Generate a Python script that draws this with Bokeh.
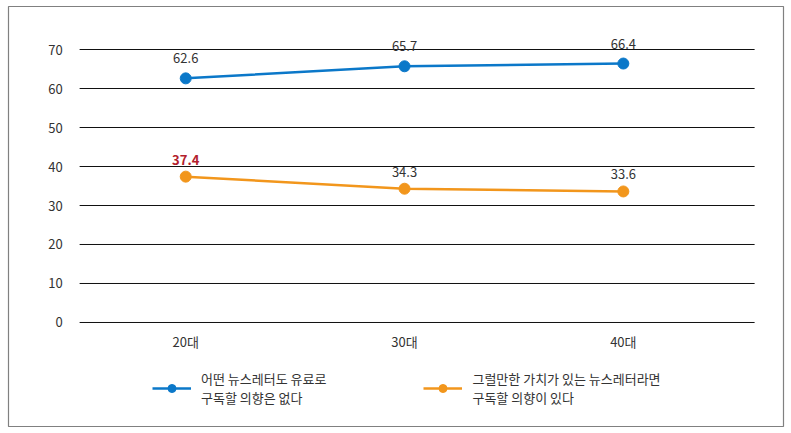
from bokeh.plotting import figure
from bokeh.models import Range1d, FixedTicker, Legend, LegendItem, ColumnDataSource
from bokeh.embed import file_html
from bokeh.resources import INLINE
from bokeh.core.properties import value

# ---- data ----
categories = ["20대", "30대", "40대"]
no_pay = [62.6, 65.7, 66.4]
will_pay = [37.4, 34.3, 33.6]
no_pay_label = "어떤 뉴스레터도 유료로\n구독할 의향은 없다"
will_pay_label = "그럴만한 가치가 있는 뉴스레터라면\n구독할 의향이 있다"
y_ticks = [0, 10, 20, 30, 40, 50, 60, 70]
highlight_index = 0  # 37.4 highlighted in the orange series

FONT = "Noto Sans CJK KR"
BLUE = "#0b78c9"
ORANGE = "#f2961c"
RED = "#b3202c"
TEXT = "#333333"

xs = list(range(len(categories)))
# horizontal extent of the grid (layout, in category units)
grid_left = xs[0] - 0.485
grid_right = xs[-1] + 0.6

p = figure(width=791, height=433, output_backend="svg", toolbar_location=None,
           x_range=Range1d(-0.81, 2.732), y_range=Range1d(-26.667, 81.026),
           min_border_left=8, min_border_right=8, min_border_top=6,
           min_border_bottom=7)
p.outline_line_color = "#808080"
p.outline_line_width = 1.2
p.background_fill_color = "white"
p.border_fill_color = "white"
p.grid.grid_line_color = None

# horizontal grid lines at the y ticks
p.segment(x0=[grid_left] * len(y_ticks), x1=[grid_right] * len(y_ticks),
          y0=y_ticks, y1=y_ticks, line_color="#111111", line_width=1)

p.yaxis.ticker = FixedTicker(ticks=y_ticks)
p.yaxis.fixed_location = grid_left
p.xaxis.ticker = FixedTicker(ticks=xs)
p.xaxis.fixed_location = 0
p.xaxis.major_label_overrides = {i: c for i, c in enumerate(categories)}
for ax in (p.xaxis, p.yaxis):
    ax.axis_line_color = None
    ax.major_tick_line_color = None
    ax.minor_tick_line_color = None
    ax.major_tick_in = 0
    ax.major_tick_out = 0
    ax.major_label_text_font = FONT
    ax.major_label_text_font_size = "13px"
    ax.major_label_text_color = TEXT
p.yaxis.major_label_standoff = 17
p.xaxis.major_label_standoff = 10

src_a = ColumnDataSource(dict(x=xs, y=no_pay, t=[f"{v:.1f}" for v in no_pay],
                              c=[TEXT] * len(xs), s=["normal"] * len(xs)))
src_b = ColumnDataSource(dict(x=xs, y=will_pay, t=[f"{v:.1f}" for v in will_pay],
                              c=[RED if i == highlight_index else TEXT for i in xs],
                              s=["bold" if i == highlight_index else "normal" for i in xs]))

la = p.line("x", "y", source=src_a, line_color=BLUE, line_width=2.5)
ma = p.scatter("x", "y", source=src_a, size=11, fill_color=BLUE, line_color=BLUE)
lb = p.line("x", "y", source=src_b, line_color=ORANGE, line_width=2.5)
mb = p.scatter("x", "y", source=src_b, size=11, fill_color=ORANGE, line_color=ORANGE)

p.text("x", "y", text="t", source=src_a, text_align="center", text_baseline="middle",
       y_offset=-20, text_font=value(FONT), text_font_size="13px", text_color="c",
       text_font_style="s")
p.text("x", "y", text="t", source=src_b, text_align="center", text_baseline="middle",
       y_offset=-17, text_font=value(FONT), text_font_size="13px", text_color="c",
       text_font_style="s")

legend = Legend(items=[LegendItem(label=no_pay_label, renderers=[la, ma]),
                       LegendItem(label=will_pay_label, renderers=[lb, mb])],
                orientation="horizontal", location=(144, 19))
legend.border_line_color = None
legend.background_fill_alpha = 0
legend.glyph_width = 39
legend.glyph_height = 20
legend.label_standoff = 10
legend.spacing = 97
legend.padding = 0
legend.margin = 0
legend.label_text_font = FONT
legend.label_text_font_size = "13px"
legend.label_text_color = TEXT
legend.label_text_line_height = 1.5
p.add_layout(legend, "center")

open("out.html", "w").write(file_html(p, INLINE))
